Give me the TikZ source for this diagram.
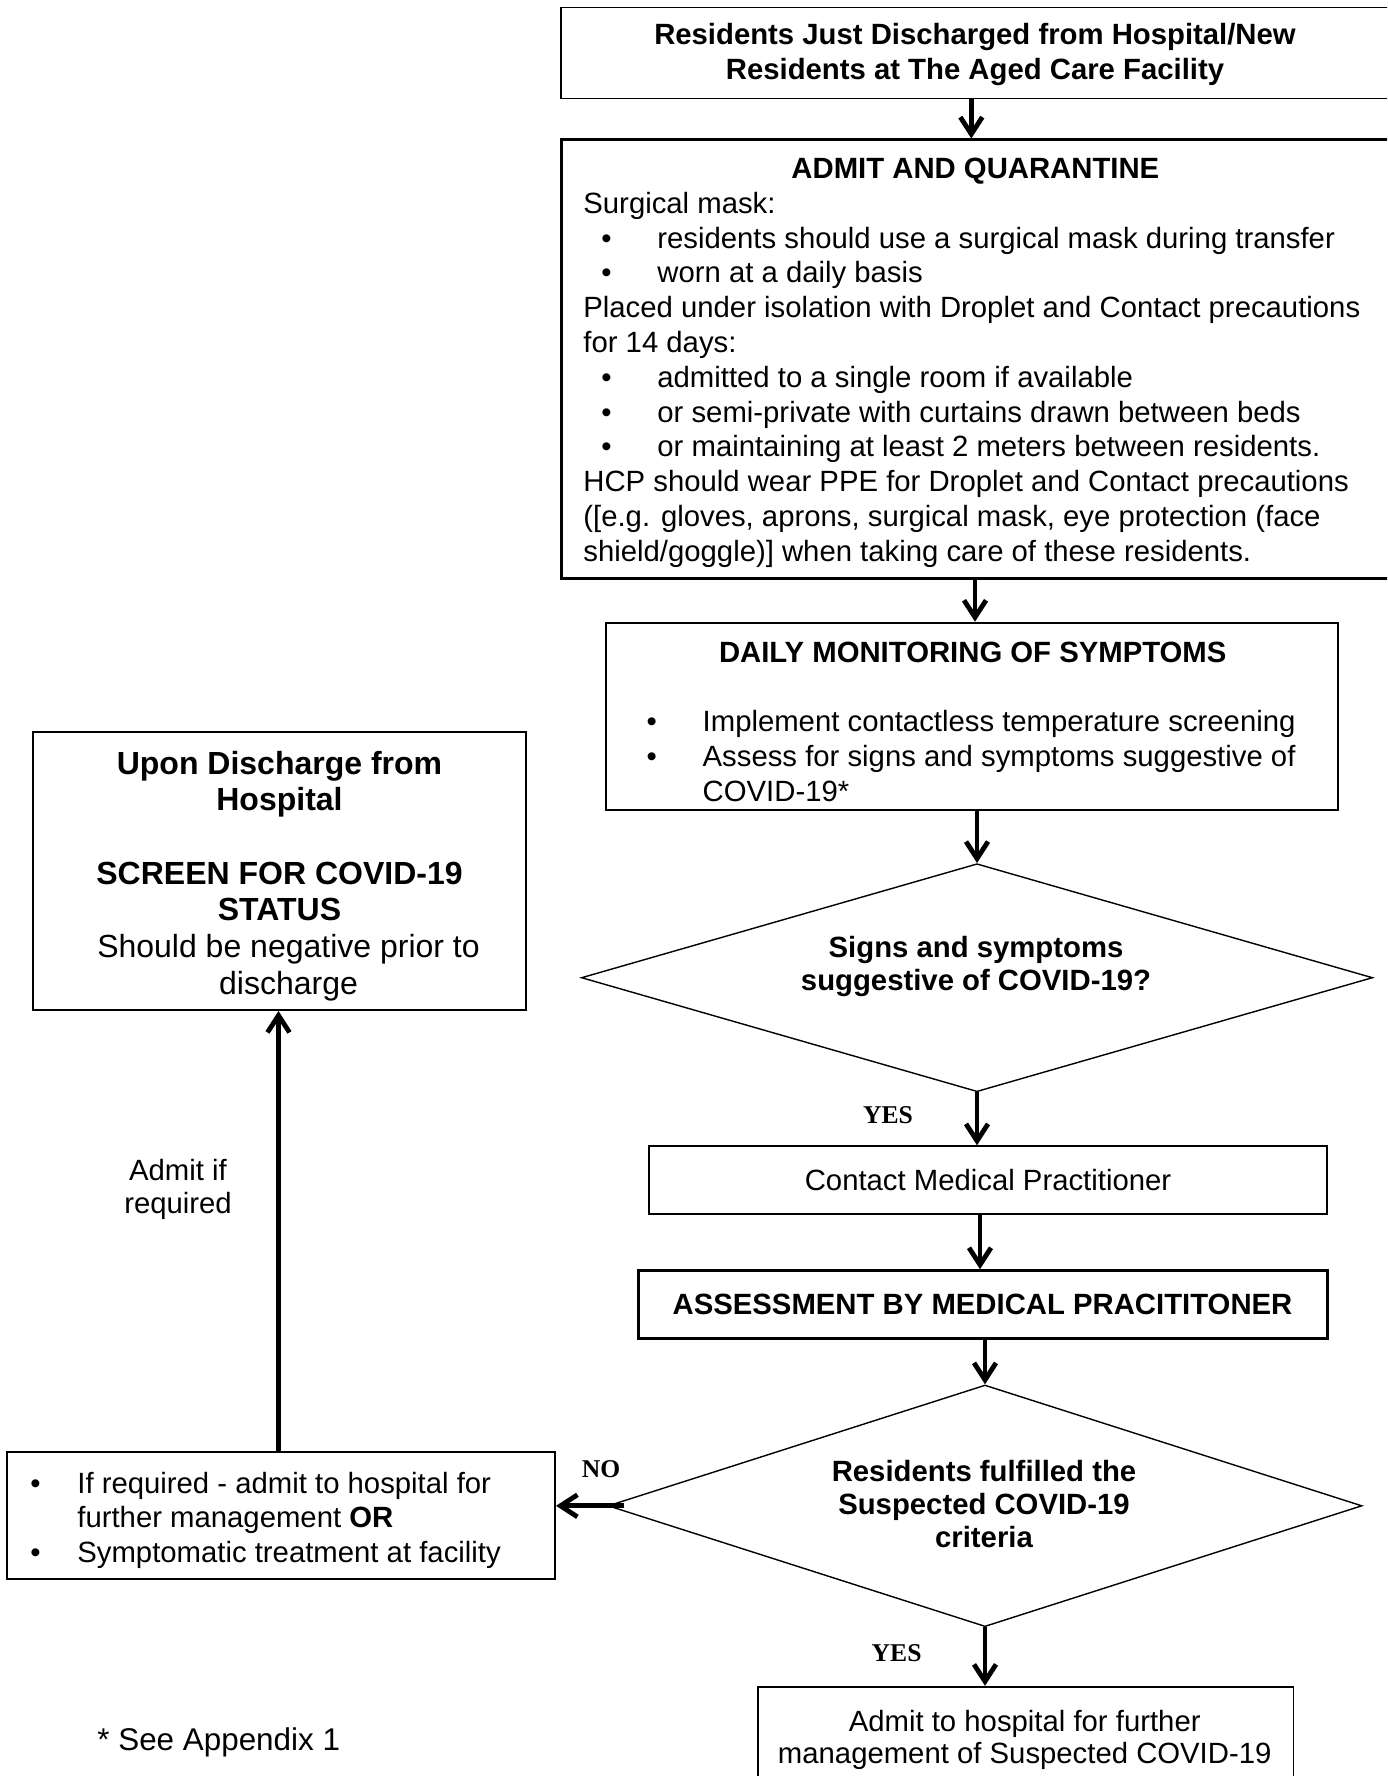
\documentclass[tikz,border=0pt]{standalone}
\usepackage{fontspec}
\setmainfont{Liberation Sans}
\newfontfamily\labfont{Liberation Serif}
\usetikzlibrary{arrows.meta,shapes.geometric}
\newcommand\fbase{\fontsize{14.65pt}{17.4pt}\selectfont}
\newcommand\fbig{\fontsize{16pt}{18.35pt}\selectfont}
\newcommand\bl[2]{\makebox[#2][l]{\hspace*{#1}\textbullet}}
\tikzset{
  boxthin/.style={draw, rectangle, inner sep=0, line width=0.7pt},
  boxmid/.style={draw, rectangle, inner sep=0, line width=1pt},
  boxthick/.style={draw, rectangle, inner sep=0, line width=1.5pt},
  decision/.style={draw, diamond, inner sep=0, shape aspect=3.5, line width=0.7pt},
  tx/.style={inner sep=0, font=\fbase},
  lab/.style={inner sep=0, font=\labfont\fontsize{12.8pt}{14pt}\selectfont\bfseries},
  arr/.style={-{Straight Barb[length=8.5pt,width=11pt]}, line width=2.4pt},
}
\begin{document}
\begin{tikzpicture}[x=0.5pt,y=-0.5pt]
\path[use as bounding box] (0,0) rectangle (1387,1776);
\clip (0,0) rectangle (1387,1776);

% boxes
\node[boxthin, minimum width=417pt, minimum height=45.5pt] (top) at (978,52.9) {};
\node[tx, anchor=base, font=\fbase\bfseries] (topT) at (975,45)
  {\begin{tabular}[t]{@{}c@{}}Residents Just Discharged from Hospital/New\\Residents at The Aged Care Facility\end{tabular}};

\node[boxthick, minimum width=416.6pt, minimum height=219.2pt] (admit) at (978.3,359.2) {};
\node[tx, anchor=base west] (admitT) at (562,178.5)
  {\begin{tabular}[t]{@{}l@{}}
  \makebox[413pt][c]{\bfseries ADMIT AND QUARANTINE}\\
  \hspace*{10.5pt}Surgical mask:\\
  \bl{19.5pt}{47.5pt}residents should use a surgical mask during transfer\\
  \bl{19.5pt}{47.5pt}worn at a daily basis\\
  \hspace*{10.5pt}Placed under isolation with Droplet and Contact precautions\\
  \hspace*{10.5pt}for 14 days:\\
  \bl{19.5pt}{47.5pt}admitted to a single room if available\\
  \bl{19.5pt}{47.5pt}or semi-private with curtains drawn between beds\\
  \bl{19.5pt}{47.5pt}or maintaining at least 2 meters between residents.\\
  \hspace*{10.5pt}HCP should wear PPE for Droplet and Contact precautions\\
  \hspace*{10.5pt}([e.g. gloves, aprons, surgical mask, eye protection (face\\
  \hspace*{10.5pt}shield/goggle)] when taking care of these residents.
  \end{tabular}};

\node[boxmid, minimum width=366pt, minimum height=93.7pt] (daily) at (972.3,716.4) {};
\node[tx, anchor=base west] (dailyT) at (606.3,662)
  {\begin{tabular}[t]{@{}l@{}}
  \makebox[366pt][c]{\bfseries DAILY MONITORING OF SYMPTOMS}\\
  \\
  \bl{20pt}{48pt}Implement contactless temperature screening\\
  \bl{20pt}{48pt}Assess for signs and symptoms suggestive of\\
  \hspace*{48pt}COVID-19*
  \end{tabular}};

\node[decision, minimum width=395.6pt, minimum height=114pt] (d1) at (977,977.7) {};
\node[tx, font=\fontsize{14.65pt}{16.5pt}\selectfont\bfseries] (d1T) at (976,967)
  {\begin{tabular}{@{}c@{}}Signs and symptoms\\suggestive of COVID-19?\end{tabular}};

\node[boxthin, minimum width=339pt, minimum height=34pt, font=\fbase] (contact) at (988,1180) {Contact Medical Practitioner};

\node[boxthick, minimum width=344.5pt, minimum height=33.8pt, font=\fbase\bfseries] (assess) at (982.5,1304.5) {ASSESSMENT BY MEDICAL PRACITITONER};

\node[decision, minimum width=377pt, minimum height=120.8pt] (d2) at (985,1505.8) {};
\node[tx, font=\fontsize{14.65pt}{16.6pt}\selectfont\bfseries] (d2T) at (984,1508)
  {\begin{tabular}{@{}c@{}}Residents fulfilled the\\Suspected COVID-19\\criteria\end{tabular}};

\node[boxmid, minimum width=274pt, minimum height=63.8pt] (left) at (281,1515.5) {};
\node[tx, anchor=base west] (leftT) at (7,1493)
  {\begin{tabular}[t]{@{}l@{}}
  \bl{11.5pt}{35pt}If required - admit to hospital for\\
  \hspace*{35pt}further management \textbf{OR}\\
  \bl{11.5pt}{35pt}Symptomatic treatment at facility
  \end{tabular}};

\node[boxmid, minimum width=246.5pt, minimum height=139.2pt] (ulbox) at (279.5,870.8) {};
\node[tx, anchor=base, font=\fbig] (ulboxT) at (279.5,774)
  {\begin{tabular}[t]{@{}c@{}}
  \textbf{Upon Discharge from}\\
  \textbf{Hospital}\\
  \\
  \textbf{SCREEN FOR COVID-19}\\
  \textbf{STATUS}\\
  \hspace*{9pt}Should be negative prior to\\
  \hspace*{9pt}discharge
  \end{tabular}};

\node[boxthin, line width=0.9pt, minimum width=267.7pt, minimum height=60pt] (final) at (1025.7,1746.7) {};
\node[tx, anchor=base, font=\fontsize{14.65pt}{16pt}\selectfont] (finalT) at (1024.7,1731.7)
  {\begin{tabular}[t]{@{}c@{}}Admit to hospital for further\\management of Suspected COVID-19\end{tabular}};

% free texts
\node[tx, anchor=base, font=\fontsize{14.65pt}{16.5pt}\selectfont] (admitif) at (178,1180.7)
  {\begin{tabular}[t]{@{}c@{}}Admit if\\required\end{tabular}};
\node[tx, anchor=base west, font=\fontsize{15.7pt}{18pt}\selectfont] (appx) at (97,1750) {* See Appendix 1};

\node[lab] (yes1) at (888,1115) {YES};
\node[lab] (yes2) at (896.6,1652.7) {YES};
\node[lab] (no) at (601,1469) {NO};

% connectors
\coordinate (c1) at (971.3,0);
\coordinate (c2) at (975,0);
\coordinate (c5) at (980,0);
\coordinate (c9) at (278.5,0);
\draw[arr] (top.south -| c1) -- (admit.north -| c1);
\draw[arr] (admit.south -| c2) -- (daily.north -| c2);
\draw[arr] (daily.south -| d1.north) -- (d1.north);
\draw[arr] (d1.south) -- (d1.south |- contact.north);
\draw[arr] (contact.south -| c5) -- (assess.north -| c5);
\draw[arr] (assess.south -| d2.north) -- (d2.north);
\draw[arr] ([xshift=8.5pt]d2.west) -- (left.east |- d2.west);
\draw[arr] (d2.south) -- (d2.south |- final.north);
\draw[arr] (left.north -| c9) -- (ulbox.south -| c9);
\end{tikzpicture}
\end{document}
